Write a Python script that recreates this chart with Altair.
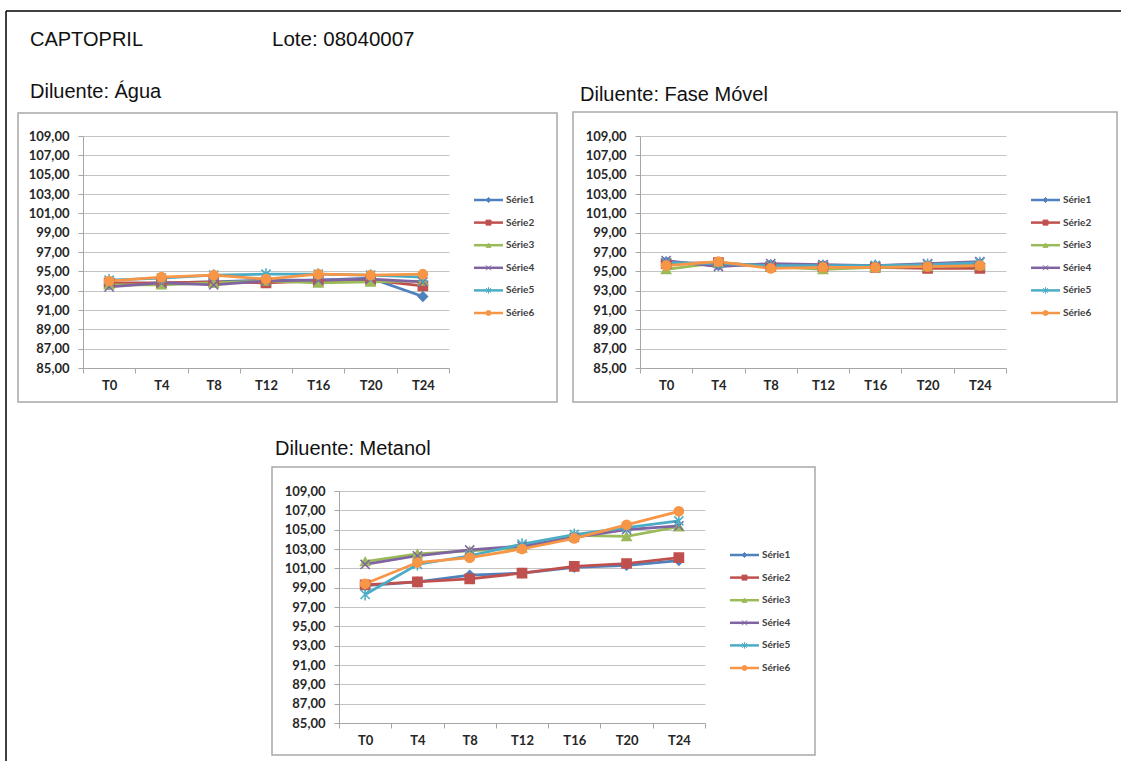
import altair as alt
import pandas as pd

# Time points and series
categories = ["T0", "T4", "T8", "T12", "T16", "T20", "T24"]
series = ["Série1", "Série2", "Série3", "Série4", "Série5", "Série6"]

# Diluente: Água
agua_s1 = [93.6, 93.8, 93.9, 94.1, 94.1, 94.3, 92.4]
agua_s2 = [93.8, 93.8, 93.9, 93.8, 94.0, 94.1, 93.5]
agua_s3 = [93.6, 93.6, 93.8, 94.0, 93.8, 93.9, 94.0]
agua_s4 = [93.4, 93.8, 93.6, 94.0, 94.1, 94.2, 93.9]
agua_s5 = [94.1, 94.3, 94.6, 94.7, 94.7, 94.6, 94.4]
agua_s6 = [94.0, 94.4, 94.6, 94.2, 94.7, 94.6, 94.7]

# Diluente: Fase Móvel
fase_s1 = [96.0, 95.6, 95.7, 95.6, 95.6, 95.6, 95.8]
fase_s2 = [95.8, 95.9, 95.5, 95.5, 95.4, 95.3, 95.3]
fase_s3 = [95.2, 95.9, 95.5, 95.2, 95.4, 95.5, 95.6]
fase_s4 = [96.1, 95.5, 95.8, 95.7, 95.6, 95.8, 96.0]
fase_s5 = [95.9, 95.8, 95.6, 95.6, 95.6, 95.7, 95.9]
fase_s6 = [95.6, 96.0, 95.3, 95.4, 95.4, 95.5, 95.6]

# Diluente: Metanol
met_s1 = [99.2, 99.6, 100.3, 100.5, 101.1, 101.3, 101.8]
met_s2 = [99.3, 99.6, 99.9, 100.5, 101.2, 101.5, 102.1]
met_s3 = [101.7, 102.5, 102.8, 103.1, 104.4, 104.3, 105.3]
met_s4 = [101.4, 102.3, 102.9, 103.3, 104.2, 105.0, 105.4]
met_s5 = [98.3, 101.4, 102.3, 103.5, 104.5, 105.2, 105.9]
met_s6 = [99.4, 101.6, 102.1, 103.0, 104.1, 105.5, 106.9]

y_ticks = [85, 87, 89, 91, 93, 95, 97, 99, 101, 103, 105, 107, 109]

colors = ["#4F81BD", "#C0504D", "#9BBB59", "#8064A2", "#4BACC6", "#F79646"]
shapes = [
    "diamond",
    "square",
    "triangle-up",
    "M-1,-1L1,1M-1,1L1,-1",
    "M-1,-1L1,1M-1,1L1,-1M0,-1.3L0,1.3",
    "circle",
]

W, H = 366, 232
TXT_FONT = "Liberation Sans"
AX_FONT = "Lato"


def long_table(values):
    rows = []
    for name, vals in zip(series, values):
        for t, v in zip(categories, vals):
            rows.append({"t": t, "serie": name, "val": v})
    return pd.DataFrame(rows)


color_scale = alt.Scale(domain=series, range=colors)
shape_scale = alt.Scale(domain=series, range=shapes)
one = pd.DataFrame({"k": [0]})


def panel(values, title, box, extras=None):
    df = long_table(values)
    x = alt.X(
        "t:N",
        sort=categories,
        bandPosition=0.5,
        scale=alt.Scale(type="band", paddingInner=0, paddingOuter=0),
        axis=alt.Axis(
            title=None, tickBand="extent", ticks=True, tickSize=5,
            tickColor="#a6a6a6", domainColor="#a6a6a6", grid=False,
            labelAngle=0, labelPadding=6, labelFont=AX_FONT, labelFontSize=13,
            labelColor="#262626", labelFontWeight="bold",
        ),
    )
    y = alt.Y(
        "val:Q",
        scale=alt.Scale(domain=[85, 109], nice=False, zero=False),
        axis=alt.Axis(
            title=None, values=y_ticks, grid=True, gridColor="#c4c4c4",
            tickSize=5, tickColor="#a6a6a6", domainColor="#a6a6a6",
            labelPadding=9, labelFont=AX_FONT, labelFontSize=13,
            labelColor="#262626", labelFontWeight="bold",
            labelExpr="replace(format(datum.value, '.2f'), '.', ',')",
        ),
    )
    base = alt.Chart(df)
    lines = base.mark_line(strokeWidth=2.75).encode(
        x=x, y=y,
        color=alt.Color("serie:N", scale=color_scale, legend=None),
        detail="serie:N",
    )
    points = base.mark_point(filled=True, size=85, strokeWidth=1.5, opacity=1).encode(
        x=x, y=y,
        color=alt.Color("serie:N", scale=color_scale, legend=None),
        stroke=alt.Stroke("serie:N", scale=color_scale, legend=None),
        shape=alt.Shape("serie:N", scale=shape_scale, legend=None),
        order=alt.Order("serie:N"),
    )
    plot = alt.layer(lines, points)

    # legend at the right side of the plot
    leg_df = pd.DataFrame({"serie": series})
    ly = alt.Y("serie:N", sort=series,
               scale=alt.Scale(type="point", range=[64, 177], padding=0), axis=None)
    leg_line = alt.Chart(leg_df).mark_rule(strokeWidth=2.5).encode(
        x=alt.value(W + 25), x2=alt.value(W + 54), y=ly,
        color=alt.Color("serie:N", scale=color_scale, legend=None),
    )
    leg_pt = alt.Chart(leg_df).mark_point(filled=True, size=25, strokeWidth=1, opacity=1).encode(
        x=alt.value(W + 39.5), y=ly,
        color=alt.Color("serie:N", scale=color_scale, legend=None),
        stroke=alt.Stroke("serie:N", scale=color_scale, legend=None),
        shape=alt.Shape("serie:N", scale=shape_scale, legend=None),
    )
    leg_txt = alt.Chart(leg_df).mark_text(
        align="left", baseline="middle", font=AX_FONT, fontSize=10,
        fontWeight="bold", color="#404040",
    ).encode(x=alt.value(W + 57), y=ly, text="serie:N")
    legend = alt.layer(leg_line, leg_pt, leg_txt)

    bl, br, bt, bb = box
    frame = alt.Chart(one).mark_rect(
        fillOpacity=0, stroke="#a8a8a8", strokeWidth=1.5
    ).encode(x=alt.value(bl), x2=alt.value(W + br), y=alt.value(bt), y2=alt.value(H + bb))

    tx, ty, label = title
    ttl = alt.Chart(one).mark_text(
        text=label, align="left", baseline="middle", font=TXT_FONT,
        fontSize=20, color="#111111",
    ).encode(x=alt.value(tx), y=alt.value(ty))

    layers = [frame, ttl]
    if extras:
        layers += extras
    layers += [plot, legend]
    return alt.layer(*layers).resolve_scale(y="independent").properties(width=W, height=H)


# page header and page rules (drawn relative to the first panel)
header = [
    alt.Chart(one).mark_text(text="CAPTOPRIL", align="left", baseline="middle",
                             font=TXT_FONT, fontSize=20, color="#111111")
    .encode(x=alt.value(-53), y=alt.value(-96)),
    alt.Chart(one).mark_text(text="Lote: 08040007", align="left", baseline="middle",
                             font=TXT_FONT, fontSize=20.5, color="#111111")
    .encode(x=alt.value(189), y=alt.value(-96)),
    alt.Chart(one).mark_rule(color="#000000", strokeWidth=1.5)
    .encode(x=alt.value(-77), x2=alt.value(1038), y=alt.value(-125)),
    alt.Chart(one).mark_rule(color="#000000", strokeWidth=1.5)
    .encode(x=alt.value(-77), y=alt.value(-125), y2=alt.value(625)),
]

p1 = panel([agua_s1, agua_s2, agua_s3, agua_s4, agua_s5, agua_s6],
           (-53, -44, "Diluente: Água"), (-65, 108, -23, 34), extras=header)
p2 = panel([fase_s1, fase_s2, fase_s3, fase_s4, fase_s5, fase_s6],
           (-60, -41, "Diluente: Fase Móvel"), (-67, 111, -24, 34))
p3 = panel([met_s1, met_s2, met_s3, met_s4, met_s5, met_s6],
           (-64, -42, "Diluente: Metanol"), (-67, 110, -24, 32))

spacer = alt.Chart(one).mark_point(opacity=0).properties(width=1, height=H)

row1 = alt.hconcat(p1, p2, spacing=191, bounds="flush")
row2 = alt.hconcat(spacer, p3, spacing=255, bounds="flush")

chart = (
    alt.vconcat(row1, row2, spacing=355, bounds="flush")
    .properties(padding={"left": 5, "top": 10, "right": 0, "bottom": 0}, background="white")
    .configure_view(strokeWidth=0)
)

chart.save("out.html", embed_options={"renderer": "svg", "actions": False})
